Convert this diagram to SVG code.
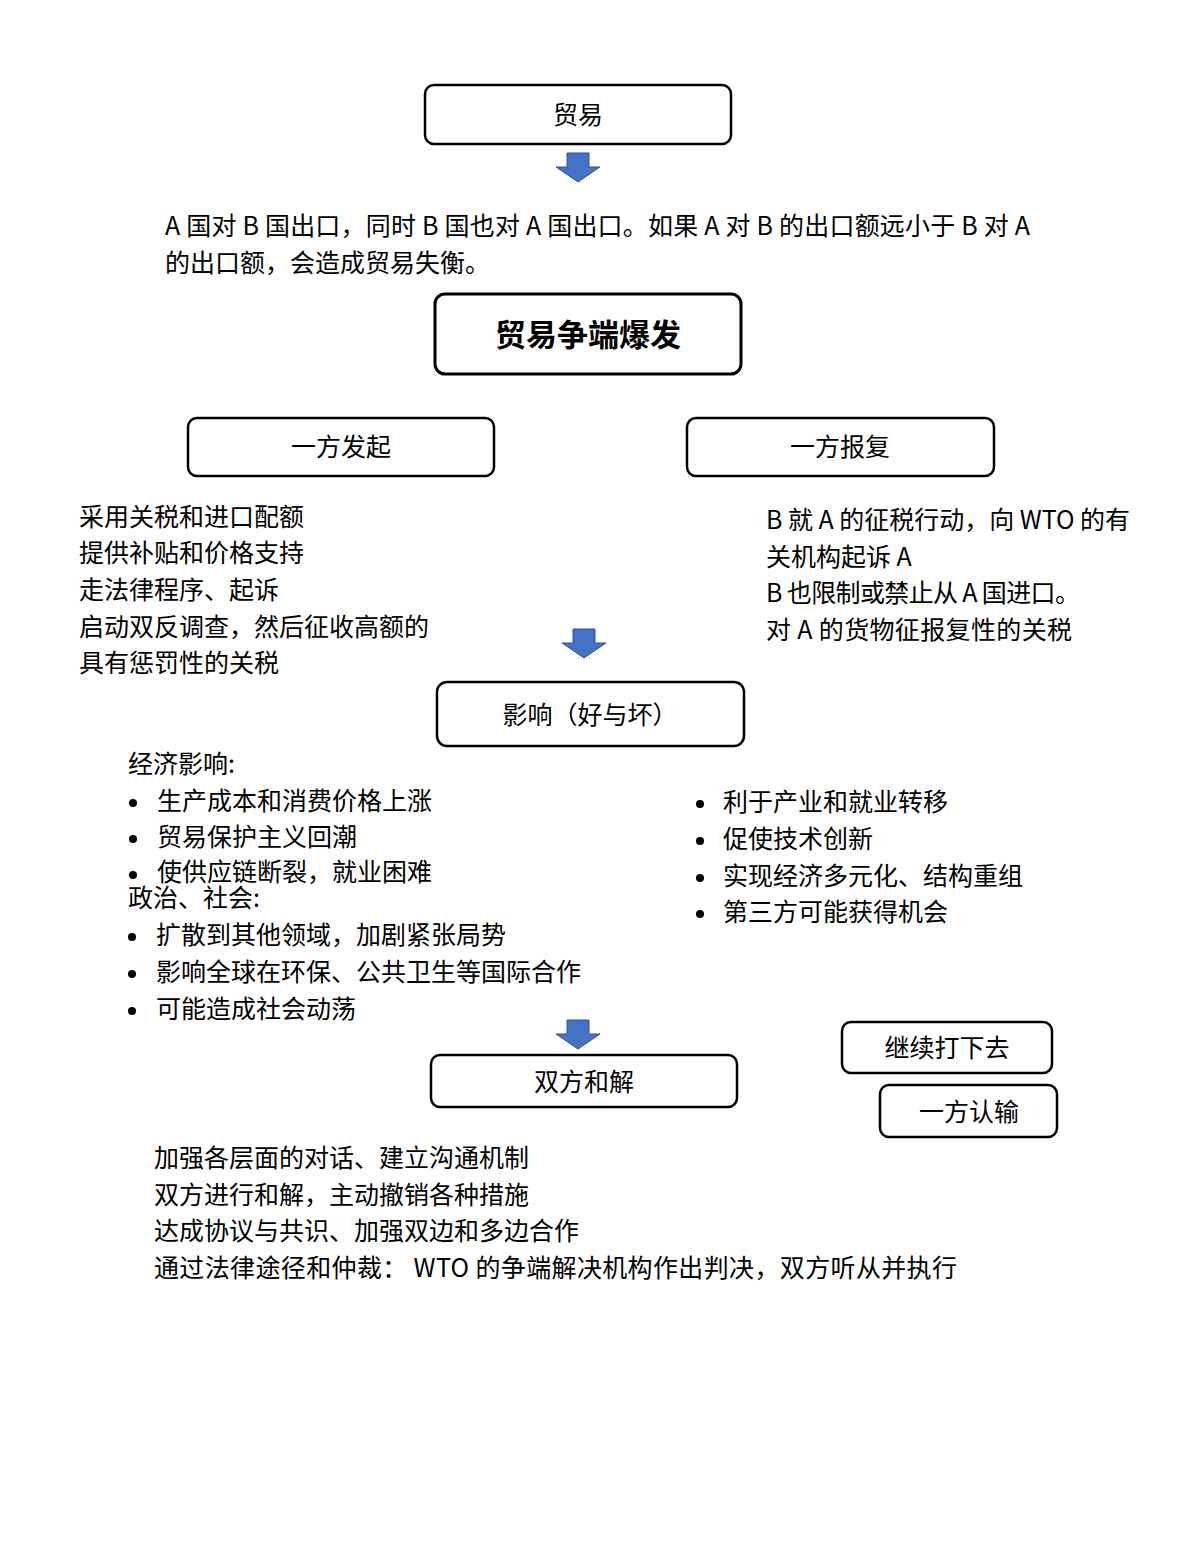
<svg xmlns="http://www.w3.org/2000/svg" width="1200" height="1553" viewBox="0 0 1200 1553">
<defs>
<style>
.box{fill:#fff;stroke:#000;stroke-width:2.5}
.lbl{font-family:"Noto Sans CJK SC","Liberation Sans",sans-serif;font-size:25px;fill:#000;text-anchor:middle}
.t{font-family:"Noto Sans CJK SC","Liberation Sans",sans-serif;font-size:25px;fill:#000}
.arr{fill:#4472C4;stroke:#2F528F;stroke-width:1}
.dot{fill:#000}
</style>
<path id="arrow" class="arr" d="M-11,0 H11 V14 H22 L0,29 L-22,14 H-11 Z"/>
</defs>
<rect width="1200" height="1553" fill="#fff"/>

<g id="connectors">
<use href="#arrow" x="578" y="153"/>
<use href="#arrow" x="584" y="629"/>
<use href="#arrow" x="578" y="1020"/>
</g>

<g id="node-trade">
<rect class="box" x="425" y="85" width="306" height="59" rx="9"/>
<text class="lbl" x="578" y="124">贸易</text>
</g>

<g id="text-intro">
<text class="t" x="165" y="235" textLength="865" lengthAdjust="spacing">A 国对 B 国出口，同时 B 国也对 A 国出口。如果 A 对 B 的出口额远小于 B 对 A</text>
<text class="t" x="165" y="272">的出口额，会造成贸易失衡。</text>
</g>

<g id="node-dispute">
<rect class="box" x="435" y="294" width="306" height="80" rx="10" style="stroke-width:3"/>
<text class="lbl" x="588" y="346" style="font-size:31px;font-weight:bold">贸易争端爆发</text>
</g>

<g id="node-initiate">
<rect class="box" x="188" y="418" width="306" height="58" rx="9"/>
<text class="lbl" x="341" y="456">一方发起</text>
</g>

<g id="node-retaliate">
<rect class="box" x="687" y="418" width="307" height="58" rx="9"/>
<text class="lbl" x="840" y="456">一方报复</text>
</g>

<g id="text-initiate">
<text class="t" x="79" y="526">采用关税和进口配额</text>
<text class="t" x="79" y="562">提供补贴和价格支持</text>
<text class="t" x="79" y="599">走法律程序、起诉</text>
<text class="t" x="79" y="636">启动双反调查，然后征收高额的</text>
<text class="t" x="79" y="672">具有惩罚性的关税</text>
</g>

<g id="text-retaliate">
<text class="t" x="766" y="529" textLength="364" lengthAdjust="spacing">B 就 A 的征税行动，向 WTO 的有</text>
<text class="t" x="766" y="566">关机构起诉 A</text>
<text class="t" x="766" y="602" textLength="314" lengthAdjust="spacing">B 也限制或禁止从 A 国进口。</text>
<text class="t" x="766" y="639" textLength="306" lengthAdjust="spacing">对 A 的货物征报复性的关税</text>
</g>

<g id="node-impact">
<rect class="box" x="437" y="682" width="307" height="64" rx="10"/>
<text class="lbl" x="590" y="724">影响（好与坏）</text>
</g>

<g id="text-impact-bad">
<text class="t" x="128" y="773">经济影响:</text>
<circle class="dot" cx="133" cy="803" r="4"/>
<text class="t" x="157" y="810">生产成本和消费价格上涨</text>
<circle class="dot" cx="133" cy="839" r="4"/>
<text class="t" x="157" y="846">贸易保护主义回潮</text>
<circle class="dot" cx="133" cy="875" r="4"/>
<text class="t" x="157" y="881">使供应链断裂，就业困难</text>
<text class="t" x="128" y="907">政治、社会:</text>
<circle class="dot" cx="132" cy="937" r="4"/>
<text class="t" x="156" y="944">扩散到其他领域，加剧紧张局势</text>
<circle class="dot" cx="132" cy="974" r="4"/>
<text class="t" x="156" y="981">影响全球在环保、公共卫生等国际合作</text>
<circle class="dot" cx="132" cy="1011" r="4"/>
<text class="t" x="156" y="1018">可能造成社会动荡</text>
</g>

<g id="text-impact-good">
<circle class="dot" cx="700" cy="804" r="4"/>
<text class="t" x="723" y="811">利于产业和就业转移</text>
<circle class="dot" cx="700" cy="841" r="4"/>
<text class="t" x="723" y="848">促使技术创新</text>
<circle class="dot" cx="700" cy="878" r="4"/>
<text class="t" x="723" y="885">实现经济多元化、结构重组</text>
<circle class="dot" cx="700" cy="914" r="4"/>
<text class="t" x="723" y="921">第三方可能获得机会</text>
</g>

<g id="node-continue">
<rect class="box" x="842" y="1022" width="210" height="51" rx="9"/>
<text class="lbl" x="947" y="1057">继续打下去</text>
</g>

<g id="node-concede">
<rect class="box" x="880" y="1085" width="177" height="52" rx="9"/>
<text class="lbl" x="969" y="1121">一方认输</text>
</g>

<g id="node-reconcile">
<rect class="box" x="431" y="1055" width="306" height="52" rx="9"/>
<text class="lbl" x="584" y="1091">双方和解</text>
</g>

<g id="text-reconcile">
<text class="t" x="154" y="1167">加强各层面的对话、建立沟通机制</text>
<text class="t" x="154" y="1204">双方进行和解，主动撤销各种措施</text>
<text class="t" x="154" y="1240">达成协议与共识、加强双边和多边合作</text>
<text class="t" x="154" y="1277" textLength="803" lengthAdjust="spacing">通过法律途径和仲裁： WTO 的争端解决机构作出判决，双方听从并执行</text>
</g>
</svg>
